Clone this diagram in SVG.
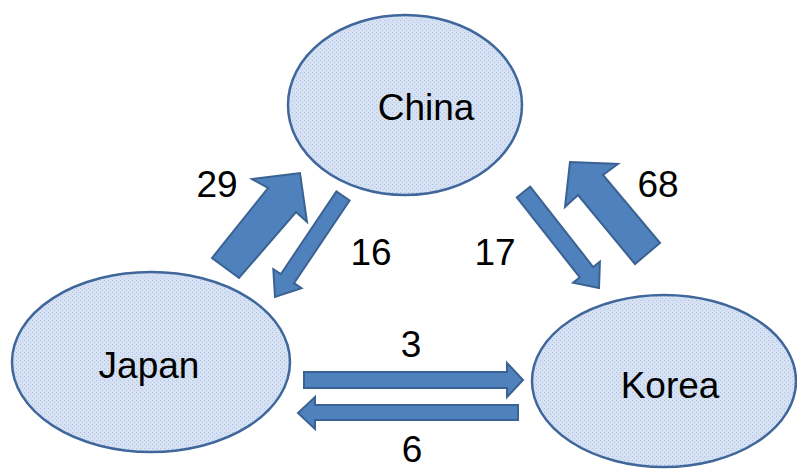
<svg xmlns="http://www.w3.org/2000/svg" width="797" height="469" viewBox="0 0 797 469">
<defs>
<pattern id="dots" width="4" height="4" patternUnits="userSpaceOnUse">
<rect width="4" height="4" fill="#d6e2f3"/>
<rect x="0" y="0" width="1" height="1" fill="#a9c1e3"/>
<rect x="2" y="2" width="1" height="1" fill="#b9cde9"/>
</pattern>
<style>
.node{fill:url(#dots);stroke:#3f679b;stroke-width:2.5}
.arr{fill:#4f81bd;stroke:#3a6292;stroke-width:2;stroke-linejoin:miter}
text{font-family:"Liberation Sans",Arial,sans-serif;font-size:37px;fill:#000;text-anchor:middle}
</style>
</defs>
<rect width="797" height="469" fill="#fff"/>
<g id="china"><ellipse class="node" cx="405" cy="105" rx="117" ry="90"/><text x="426" y="120">China</text></g>
<g id="japan"><ellipse class="node" cx="151" cy="362" rx="139" ry="90"/><text x="149" y="378">Japan</text></g>
<g id="korea"><ellipse class="node" cx="664" cy="381" rx="132" ry="86"/><text x="670" y="398">Korea</text></g>
<g id="connectors">
<polygon class="arr" points="212,258 268,188 252,179 300,173 307,222 296,212 239,278"/>
<polygon class="arr" points="349.6,200.5 294,283.2 301.5,288.2 275,297 273.3,269.2 280.8,274.2 336.4,191.5"/>
<polygon class="arr" points="530.2,186.7 593.2,267 599.9,261.7 599,288 573.1,282.7 579.8,277.4 516.8,197.3"/>
<polygon class="arr" points="635,264 578,195 565,207 570,162 618,164 603,175 660,243"/>
<polygon class="arr" points="304,372 507,372 507,363 523,380 507,397 507,388 304,388"/>
<polygon class="arr" points="518,405 315,405 315,397 298,413 315,429 315,420 518,420"/>
</g>
<g id="labels">
<text x="217" y="197">29</text>
<text x="371" y="265">16</text>
<text x="495" y="265">17</text>
<text x="658" y="197">68</text>
<text x="411" y="357">3</text>
<text x="412" y="462">6</text>
</g>
</svg>
